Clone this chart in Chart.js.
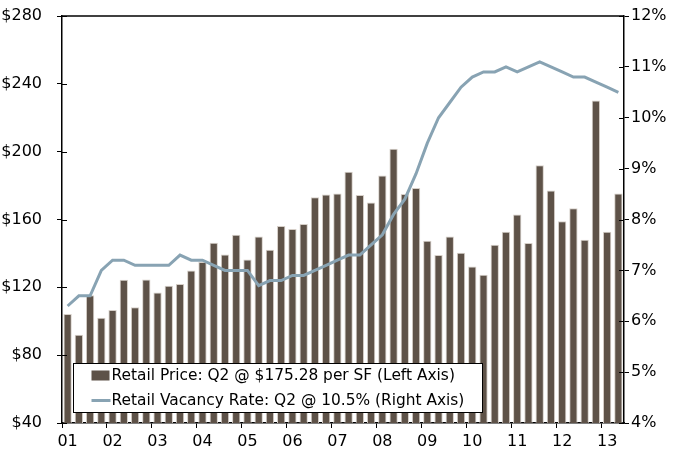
<!DOCTYPE html>
<html>
<head>
<meta charset="utf-8">
<script src="https://cdn.jsdelivr.net/npm/chart.js@4/dist/chart.umd.min.js"></script>
<style>
  html, body { margin: 0; padding: 0; background: #fff; }
  #wrap { width: 674px; height: 451px; position: relative; }
</style>
</head>
<body>
<div id="wrap"><canvas id="c" width="674" height="451"></canvas></div>
<script>
// Quarterly categories, 2001 Q1 through 2013 Q2
const quarters = [
  '01Q1','01Q2','01Q3','01Q4','02Q1','02Q2','02Q3','02Q4','03Q1','03Q2','03Q3','03Q4',
  '04Q1','04Q2','04Q3','04Q4','05Q1','05Q2','05Q3','05Q4','06Q1','06Q2','06Q3','06Q4',
  '07Q1','07Q2','07Q3','07Q4','08Q1','08Q2','08Q3','08Q4','09Q1','09Q2','09Q3','09Q4',
  '10Q1','10Q2','10Q3','10Q4','11Q1','11Q2','11Q3','11Q4','12Q1','12Q2','12Q3','12Q4',
  '13Q1','13Q2'
];

// Year labels shown under the first quarter of each year
const yearTicks = ['01','02','03','04','05','06','07','08','09','10','11','12','13'];

// Retail price, $ per square foot
const retailPrice = [
  104.3, 92.0, 115.3, 102.0, 106.7, 124.4, 108.2, 124.6, 116.9, 120.9, 122.0, 129.9,
  135.0, 146.3, 139.4, 151.0, 136.4, 150.0, 142.2, 156.2, 154.4, 157.4, 173.1, 174.7,
  175.3, 188.1, 174.5, 170.0, 186.0, 201.7, 175.1, 178.6, 147.5, 139.0, 150.0, 140.4,
  132.3, 127.4, 145.1, 152.8, 163.0, 146.1, 192.0, 177.1, 158.9, 166.6, 148.1, 230.1,
  152.8, 175.28
];

// Retail vacancy rate, %
const vacancyRate = [
  6.3, 6.5, 6.5, 7.0, 7.2, 7.2, 7.1, 7.1, 7.1, 7.1, 7.3, 7.2,
  7.2, 7.1, 7.0, 7.0, 7.0, 6.7, 6.8, 6.8, 6.9, 6.9, 7.0, 7.1,
  7.2, 7.3, 7.3, 7.5, 7.7, 8.1, 8.4, 8.9, 9.5, 10.0, 10.3, 10.6,
  10.8, 10.9, 10.9, 11.0, 10.9, 11.0, 11.1, 11.0, 10.9, 10.8, 10.8, 10.7,
  10.6, 10.5
];

const seriesNames = [
  'Retail Price: Q2 @ $175.28 per SF (Left Axis)',
  'Retail Vacancy Rate: Q2 @ 10.5% (Right Axis)'
];

const BAR_COLOR = '#5e5248';
const LINE_COLOR = '#88a3b3';
const AXIS_COLOR = '#000000';
const FONT = '"DejaVu Sans", Verdana, sans-serif';

Chart.defaults.font.family = FONT;
Chart.defaults.color = '#000';

// Frame top line, inward tick marks and the boxed legend inside the plot
const decorations = {
  id: 'decorations',
  afterDraw(chart) {
    const { ctx, chartArea: a, scales } = chart;
    ctx.save();
    ctx.strokeStyle = AXIS_COLOR;
    ctx.lineWidth = 1.5;
    ctx.beginPath();
    ctx.moveTo(a.left, a.top);
    ctx.lineTo(a.right, a.top);
    ctx.stroke();

    ctx.lineWidth = 1;
    scales.y.ticks.forEach((t, i) => {
      const py = Math.round(scales.y.getPixelForTick(i)) + 0.5;
      ctx.beginPath(); ctx.moveTo(a.left, py); ctx.lineTo(a.left + 5, py); ctx.stroke();
    });
    scales.y1.ticks.forEach((t, i) => {
      const py = Math.round(scales.y1.getPixelForTick(i)) + 0.5;
      ctx.beginPath(); ctx.moveTo(a.right - 5, py); ctx.lineTo(a.right, py); ctx.stroke();
    });

    // legend box
    const bx = a.left + 11.5, by = 363.5, bw = 409, bh = 49;
    ctx.fillStyle = '#fff';
    ctx.fillRect(bx, by, bw, bh);
    ctx.strokeStyle = '#000';
    ctx.lineWidth = 1;
    ctx.strokeRect(bx, by, bw, bh);

    ctx.fillStyle = BAR_COLOR;
    ctx.fillRect(bx + 18, by + 7, 18, 10);
    ctx.strokeStyle = LINE_COLOR;
    ctx.lineWidth = 3;
    ctx.beginPath();
    ctx.moveTo(bx + 18, by + 37);
    ctx.lineTo(bx + 37, by + 37);
    ctx.stroke();

    ctx.fillStyle = '#000';
    ctx.font = '15.4px ' + FONT;
    ctx.textBaseline = 'middle';
    ctx.textAlign = 'left';
    ctx.fillText(seriesNames[0], bx + 38, by + 12.5);
    ctx.fillText(seriesNames[1], bx + 38, by + 37.5);
    ctx.restore();
  }
};

// Value axes keep a fixed width and no extra vertical label padding
const fitValueAxis = (width) => (s) => {
  s.width = width;
  s.paddingTop = 0;
  s.paddingBottom = 0;
};

new Chart(document.getElementById('c'), {
  data: {
    labels: quarters,
    datasets: [
      {
        type: 'line',
        label: seriesNames[1],
        data: vacancyRate,
        yAxisID: 'y1',
        borderColor: LINE_COLOR,
        borderWidth: 3,
        pointRadius: 0,
        tension: 0,
        order: 0
      },
      {
        type: 'bar',
        label: seriesNames[0],
        data: retailPrice,
        yAxisID: 'y',
        backgroundColor: BAR_COLOR,
        borderColor: '#d6cfc8',
        borderWidth: 1,
        categoryPercentage: 1,
        barPercentage: 0.74,
        order: 1
      }
    ]
  },
  options: {
    responsive: false,
    animation: false,
    devicePixelRatio: 1,
    layout: { padding: { top: 16, left: 0, right: 0, bottom: 0 } },
    plugins: { legend: { display: false }, tooltip: { enabled: false } },
    scales: {
      x: {
        type: 'category',
        offset: true,
        grid: {
          offset: true,
          drawOnChartArea: false,
          drawTicks: true,
          tickLength: 5,
          lineWidth: 1,
          color: (c) => (c.index % 4 === 0 ? AXIS_COLOR : 'rgba(0,0,0,0)')
        },
        border: { display: true, color: AXIS_COLOR, width: 1.5 },
        ticks: {
          autoSkip: false,
          maxRotation: 0,
          minRotation: 0,
          padding: 4,
          font: { size: 16 },
          color: '#000',
          callback: (v, i) => (i % 4 === 0 ? yearTicks[i / 4] : '')
        },
        afterFit: (s) => { s.height = 28; s.paddingLeft = 0; s.paddingRight = 0; }
      },
      y: {
        position: 'left',
        min: 40,
        max: 280,
        ticks: {
          stepSize: 40,
          padding: 15,
          font: { size: 16 },
          color: '#000',
          callback: (v) => '$' + v
        },
        grid: { drawOnChartArea: false, drawTicks: true, tickLength: 5, color: AXIS_COLOR },
        border: { display: true, color: AXIS_COLOR, width: 1.5 },
        afterFit: fitValueAxis(62)
      },
      y1: {
        position: 'right',
        min: 4,
        max: 12,
        ticks: {
          stepSize: 1,
          padding: 2,
          font: { size: 16 },
          color: '#000',
          callback: (v) => v + '%'
        },
        grid: { drawOnChartArea: false, drawTicks: true, tickLength: 5, color: AXIS_COLOR },
        border: { display: true, color: AXIS_COLOR, width: 1.5 },
        afterFit: fitValueAxis(50)
      }
    }
  },
  plugins: [decorations]
});
</script>
</body>
</html>
